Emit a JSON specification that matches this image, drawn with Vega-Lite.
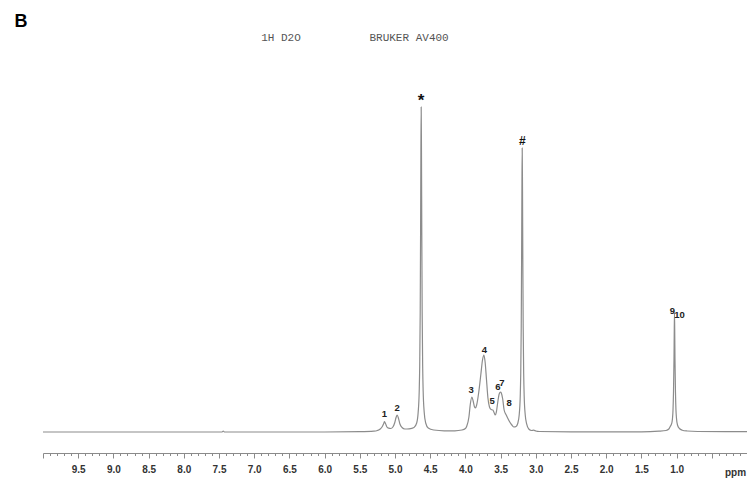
{
  "$schema": "https://vega.github.io/schema/vega-lite/v6.json",
  "width": 704,
  "height": 393,
  "autosize": {"type": "none"},
  "padding": {"left": 43, "top": 60, "right": 0, "bottom": 26},
  "background": "white",
  "config": {"view": {"stroke": null}},
  "datasets": {
    "spec": [
      {"ppm": 10.0, "I": 0}, {"ppm": 8.0, "I": 0}, {"ppm": 7.46, "I": 0}, {"ppm": 7.44, "I": 0.8}, {"ppm": 7.42, "I": 0},
      {"ppm": 6.0, "I": 0}, {"ppm": 5.5, "I": 0.3}, {"ppm": 5.3, "I": 0.8}, {"ppm": 5.25, "I": 1.5}, {"ppm": 5.21, "I": 3},
      {"ppm": 5.18, "I": 5.5}, {"ppm": 5.16, "I": 8.5}, {"ppm": 5.149, "I": 10.3}, {"ppm": 5.135, "I": 8.5}, {"ppm": 5.115, "I": 5},
      {"ppm": 5.09, "I": 3.8}, {"ppm": 5.06, "I": 3.5}, {"ppm": 5.03, "I": 5}, {"ppm": 5.005, "I": 9}, {"ppm": 4.985, "I": 14.5},
      {"ppm": 4.969, "I": 17}, {"ppm": 4.952, "I": 14}, {"ppm": 4.93, "I": 8}, {"ppm": 4.9, "I": 4.5}, {"ppm": 4.86, "I": 3},
      {"ppm": 4.8, "I": 3.2}, {"ppm": 4.73, "I": 4.5}, {"ppm": 4.692, "I": 9}, {"ppm": 4.671, "I": 19.6}, {"ppm": 4.656, "I": 41},
      {"ppm": 4.649, "I": 66}, {"ppm": 4.642, "I": 119}, {"ppm": 4.6365, "I": 200}, {"ppm": 4.632, "I": 281}, {"ppm": 4.628, "I": 325},
      {"ppm": 4.624, "I": 281}, {"ppm": 4.6195, "I": 200}, {"ppm": 4.614, "I": 119}, {"ppm": 4.607, "I": 66}, {"ppm": 4.6, "I": 41},
      {"ppm": 4.585, "I": 19.6}, {"ppm": 4.564, "I": 9}, {"ppm": 4.528, "I": 4}, {"ppm": 4.45, "I": 2}, {"ppm": 4.3, "I": 1.2},
      {"ppm": 4.15, "I": 1.2}, {"ppm": 4.05, "I": 2}, {"ppm": 4.0, "I": 3.5}, {"ppm": 3.98, "I": 6}, {"ppm": 3.95, "I": 15},
      {"ppm": 3.93, "I": 28}, {"ppm": 3.908, "I": 35}, {"ppm": 3.89, "I": 31}, {"ppm": 3.87, "I": 25}, {"ppm": 3.857, "I": 24},
      {"ppm": 3.84, "I": 27}, {"ppm": 3.81, "I": 40}, {"ppm": 3.78, "I": 58}, {"ppm": 3.757, "I": 72}, {"ppm": 3.737, "I": 77},
      {"ppm": 3.72, "I": 70}, {"ppm": 3.7, "I": 52}, {"ppm": 3.68, "I": 34}, {"ppm": 3.658, "I": 25}, {"ppm": 3.635, "I": 22.5},
      {"ppm": 3.61, "I": 22}, {"ppm": 3.59, "I": 19}, {"ppm": 3.577, "I": 17}, {"ppm": 3.56, "I": 20}, {"ppm": 3.54, "I": 30},
      {"ppm": 3.52, "I": 38}, {"ppm": 3.501, "I": 40}, {"ppm": 3.49, "I": 39}, {"ppm": 3.47, "I": 33}, {"ppm": 3.45, "I": 22},
      {"ppm": 3.42, "I": 17}, {"ppm": 3.4, "I": 14}, {"ppm": 3.37, "I": 10}, {"ppm": 3.34, "I": 7}, {"ppm": 3.31, "I": 5},
      {"ppm": 3.28, "I": 5.5}, {"ppm": 3.257, "I": 8.5}, {"ppm": 3.236, "I": 17}, {"ppm": 3.221, "I": 36}, {"ppm": 3.214, "I": 58},
      {"ppm": 3.207, "I": 104}, {"ppm": 3.2015, "I": 175}, {"ppm": 3.197, "I": 245}, {"ppm": 3.193, "I": 284}, {"ppm": 3.189, "I": 245},
      {"ppm": 3.1845, "I": 175}, {"ppm": 3.179, "I": 104}, {"ppm": 3.172, "I": 58}, {"ppm": 3.165, "I": 36}, {"ppm": 3.15, "I": 17},
      {"ppm": 3.129, "I": 7.8}, {"ppm": 3.1, "I": 3}, {"ppm": 3.06, "I": 1.5}, {"ppm": 3.03, "I": 1.8}, {"ppm": 3.0, "I": 1},
      {"ppm": 2.95, "I": 0.5}, {"ppm": 2.5, "I": 0.2}, {"ppm": 1.5, "I": 0.2}, {"ppm": 1.25, "I": 0.8}, {"ppm": 1.15, "I": 1.5},
      {"ppm": 1.11, "I": 3}, {"ppm": 1.09, "I": 5.5}, {"ppm": 1.075, "I": 7.5}, {"ppm": 1.065, "I": 10}, {"ppm": 1.058, "I": 14},
      {"ppm": 1.051, "I": 22}, {"ppm": 1.044, "I": 40}, {"ppm": 1.037, "I": 73}, {"ppm": 1.033, "I": 103}, {"ppm": 1.03, "I": 119},
      {"ppm": 1.027, "I": 103}, {"ppm": 1.023, "I": 73}, {"ppm": 1.016, "I": 40}, {"ppm": 1.009, "I": 22}, {"ppm": 1.002, "I": 14},
      {"ppm": 0.987, "I": 7}, {"ppm": 0.96, "I": 3.5}, {"ppm": 0.92, "I": 1.8}, {"ppm": 0.85, "I": 1}, {"ppm": 0.7, "I": 0.5},
      {"ppm": 0.0, "I": 0.3}
    ],
    "peaks": [
      {"ppm": 5.15, "I": 18, "label": "1"},
      {"ppm": 4.97, "I": 24, "label": "2"},
      {"ppm": 3.92, "I": 42, "label": "3"},
      {"ppm": 3.73, "I": 82, "label": "4"},
      {"ppm": 3.62, "I": 31, "label": "5"},
      {"ppm": 3.54, "I": 45, "label": "6"},
      {"ppm": 3.48, "I": 49, "label": "7"},
      {"ppm": 3.38, "I": 29, "label": "8"},
      {"ppm": 1.06, "I": 121, "label": "9"},
      {"ppm": 0.96, "I": 117, "label": "10"}
    ],
    "star": [
      {"ppm": 4.63, "I": 331, "label": "*"}
    ],
    "hash": [
      {"ppm": 3.19, "I": 291, "label": "#"}
    ],
    "header": [
      {"ppm": 6.62, "I": 394, "label": "1H D2O"},
      {"ppm": 4.8, "I": 394, "label": "BRUKER AV400"}
    ],
    "panel": [
      {"ppm": 10.314, "I": 410, "label": "B"}
    ]
  },
  "encoding": {
    "x": {
      "field": "ppm", "type": "quantitative",
      "scale": {"domain": [0, 10], "reverse": true, "nice": false, "zero": false},
      "axis": {
        "values": [0,0.1,0.2,0.3,0.4,0.5,0.6,0.7,0.8,0.9,1,1.1,1.2,1.3,1.4,1.5,1.6,1.7,1.8,1.9,2,2.1,2.2,2.3,2.4,2.5,2.6,2.7,2.8,2.9,3,3.1,3.2,3.3,3.4,3.5,3.6,3.7,3.8,3.9,4,4.1,4.2,4.3,4.4,4.5,4.6,4.7,4.8,4.9,5,5.1,5.2,5.3,5.4,5.5,5.6,5.7,5.8,5.9,6,6.1,6.2,6.3,6.4,6.5,6.6,6.7,6.8,6.9,7,7.1,7.2,7.3,7.4,7.5,7.6,7.7,7.8,7.9,8,8.1,8.2,8.3,8.4,8.5,8.6,8.7,8.8,8.9,9,9.1,9.2,9.3,9.4,9.5,9.6,9.7,9.8,9.9,10],
        "labelExpr": "(abs(round(datum.value*2)-datum.value*2)<0.001 && datum.value>0.95 && datum.value<9.55) ? format(datum.value,'.1f') : ''",
        "tickSize": {"condition": {"test": "abs(round(datum.value*2)-datum.value*2)<0.001", "value": 5}, "value": 2.5},
        "domainColor": "#8a8a8a", "tickColor": "#8a8a8a", "domainWidth": 1, "tickWidth": 1,
        "labelFont": "Liberation Sans", "labelFontWeight": "bold", "labelFontSize": 10, "labelColor": "#333333",
        "labelPadding": 6, "labelFlush": false, "labelOverlap": false, "labelBound": false, "grid": false,
        "title": "ppm", "titleX": 692, "titleY": 19, "titleFont": "Liberation Sans", "titleFontWeight": "bold",
        "titleFontSize": 10, "titleColor": "#333333", "titleBaseline": "middle", "titleAlign": "center"
      }
    },
    "y": {"field": "I", "type": "quantitative", "scale": {"domain": [-21, 372], "nice": false, "zero": false}, "axis": null}
  },
  "layer": [
    {
      "data": {"name": "spec"},
      "mark": {"type": "line", "color": "#8c8c8c", "strokeWidth": 1.2, "interpolate": "monotone"}
    },
    {
      "data": {"name": "peaks"},
      "mark": {"type": "text", "font": "Liberation Sans", "fontWeight": "bold", "fontSize": 9.5, "color": "#222222", "align": "center", "baseline": "middle"},
      "encoding": {"text": {"field": "label"}}
    },
    {
      "data": {"name": "star"},
      "mark": {"type": "text", "font": "Liberation Sans", "fontWeight": "bold", "fontSize": 17, "color": "#111111", "align": "center", "baseline": "middle"},
      "encoding": {"text": {"field": "label"}}
    },
    {
      "data": {"name": "hash"},
      "mark": {"type": "text", "font": "Liberation Sans", "fontWeight": "bold", "fontSize": 12, "color": "#111111", "align": "center", "baseline": "middle"},
      "encoding": {"text": {"field": "label"}}
    },
    {
      "data": {"name": "header"},
      "mark": {"type": "text", "font": "Liberation Mono", "fontSize": 11, "color": "#555555", "align": "center", "baseline": "middle"},
      "encoding": {"text": {"field": "label"}}
    },
    {
      "data": {"name": "panel"},
      "mark": {"type": "text", "font": "Liberation Sans", "fontWeight": "bold", "fontSize": 18, "color": "#000000", "align": "center", "baseline": "middle"},
      "encoding": {"text": {"field": "label"}}
    }
  ]
}
